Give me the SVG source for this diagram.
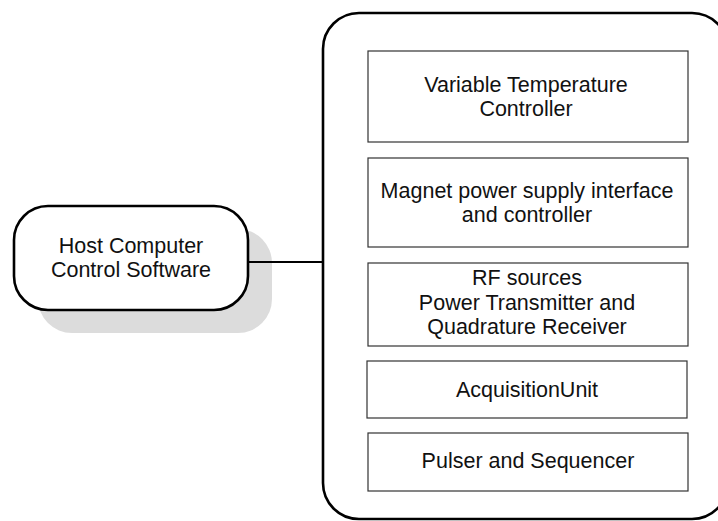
<svg xmlns="http://www.w3.org/2000/svg" width="718" height="521" viewBox="0 0 718 521">
<style>
text{font-family:"Liberation Sans",Arial,sans-serif;font-size:21.5px;fill:#111;text-anchor:middle}
.box{fill:#fff;stroke:#333;stroke-width:1.2}
.conn{stroke:#000;stroke-width:2.2;fill:none}
</style>
<rect width="718" height="521" fill="#fff"/>
<g id="host">
<rect x="38" y="229" width="234" height="104" rx="34" fill="#dcdcdc"/>
<rect x="14" y="206" width="234" height="104" rx="34" fill="#fff" stroke="#000" stroke-width="2.6"/>
<text x="131" y="253">Host Computer</text>
<text x="131" y="277">Control Software</text>
</g>
<g id="connectors">
<line class="conn" x1="248" y1="262" x2="323" y2="262"/>
</g>
<g id="system">
<rect x="323" y="13" width="405" height="506" rx="36" fill="none" stroke="#000" stroke-width="2.6"/>
</g>
<g id="vtc">
<rect class="box" x="368" y="51" width="320" height="91"/>
<text x="526" y="92">Variable Temperature</text>
<text x="526" y="116">Controller</text>
</g>
<g id="magnet">
<rect class="box" x="368" y="158" width="320" height="89"/>
<text x="527" y="198">Magnet power supply interface</text>
<text x="527" y="222">and controller</text>
</g>
<g id="rf">
<rect class="box" x="368" y="263" width="320" height="83"/>
<text x="527" y="285">RF sources</text>
<text x="527" y="310">Power Transmitter and</text>
<text x="527" y="334">Quadrature Receiver</text>
</g>
<g id="acq">
<rect class="box" x="367" y="361" width="320" height="57"/>
<text x="527" y="397">AcquisitionUnit</text>
</g>
<g id="pulser">
<rect class="box" x="368" y="433" width="320" height="58"/>
<text x="528" y="468">Pulser and Sequencer</text>
</g>
</svg>
